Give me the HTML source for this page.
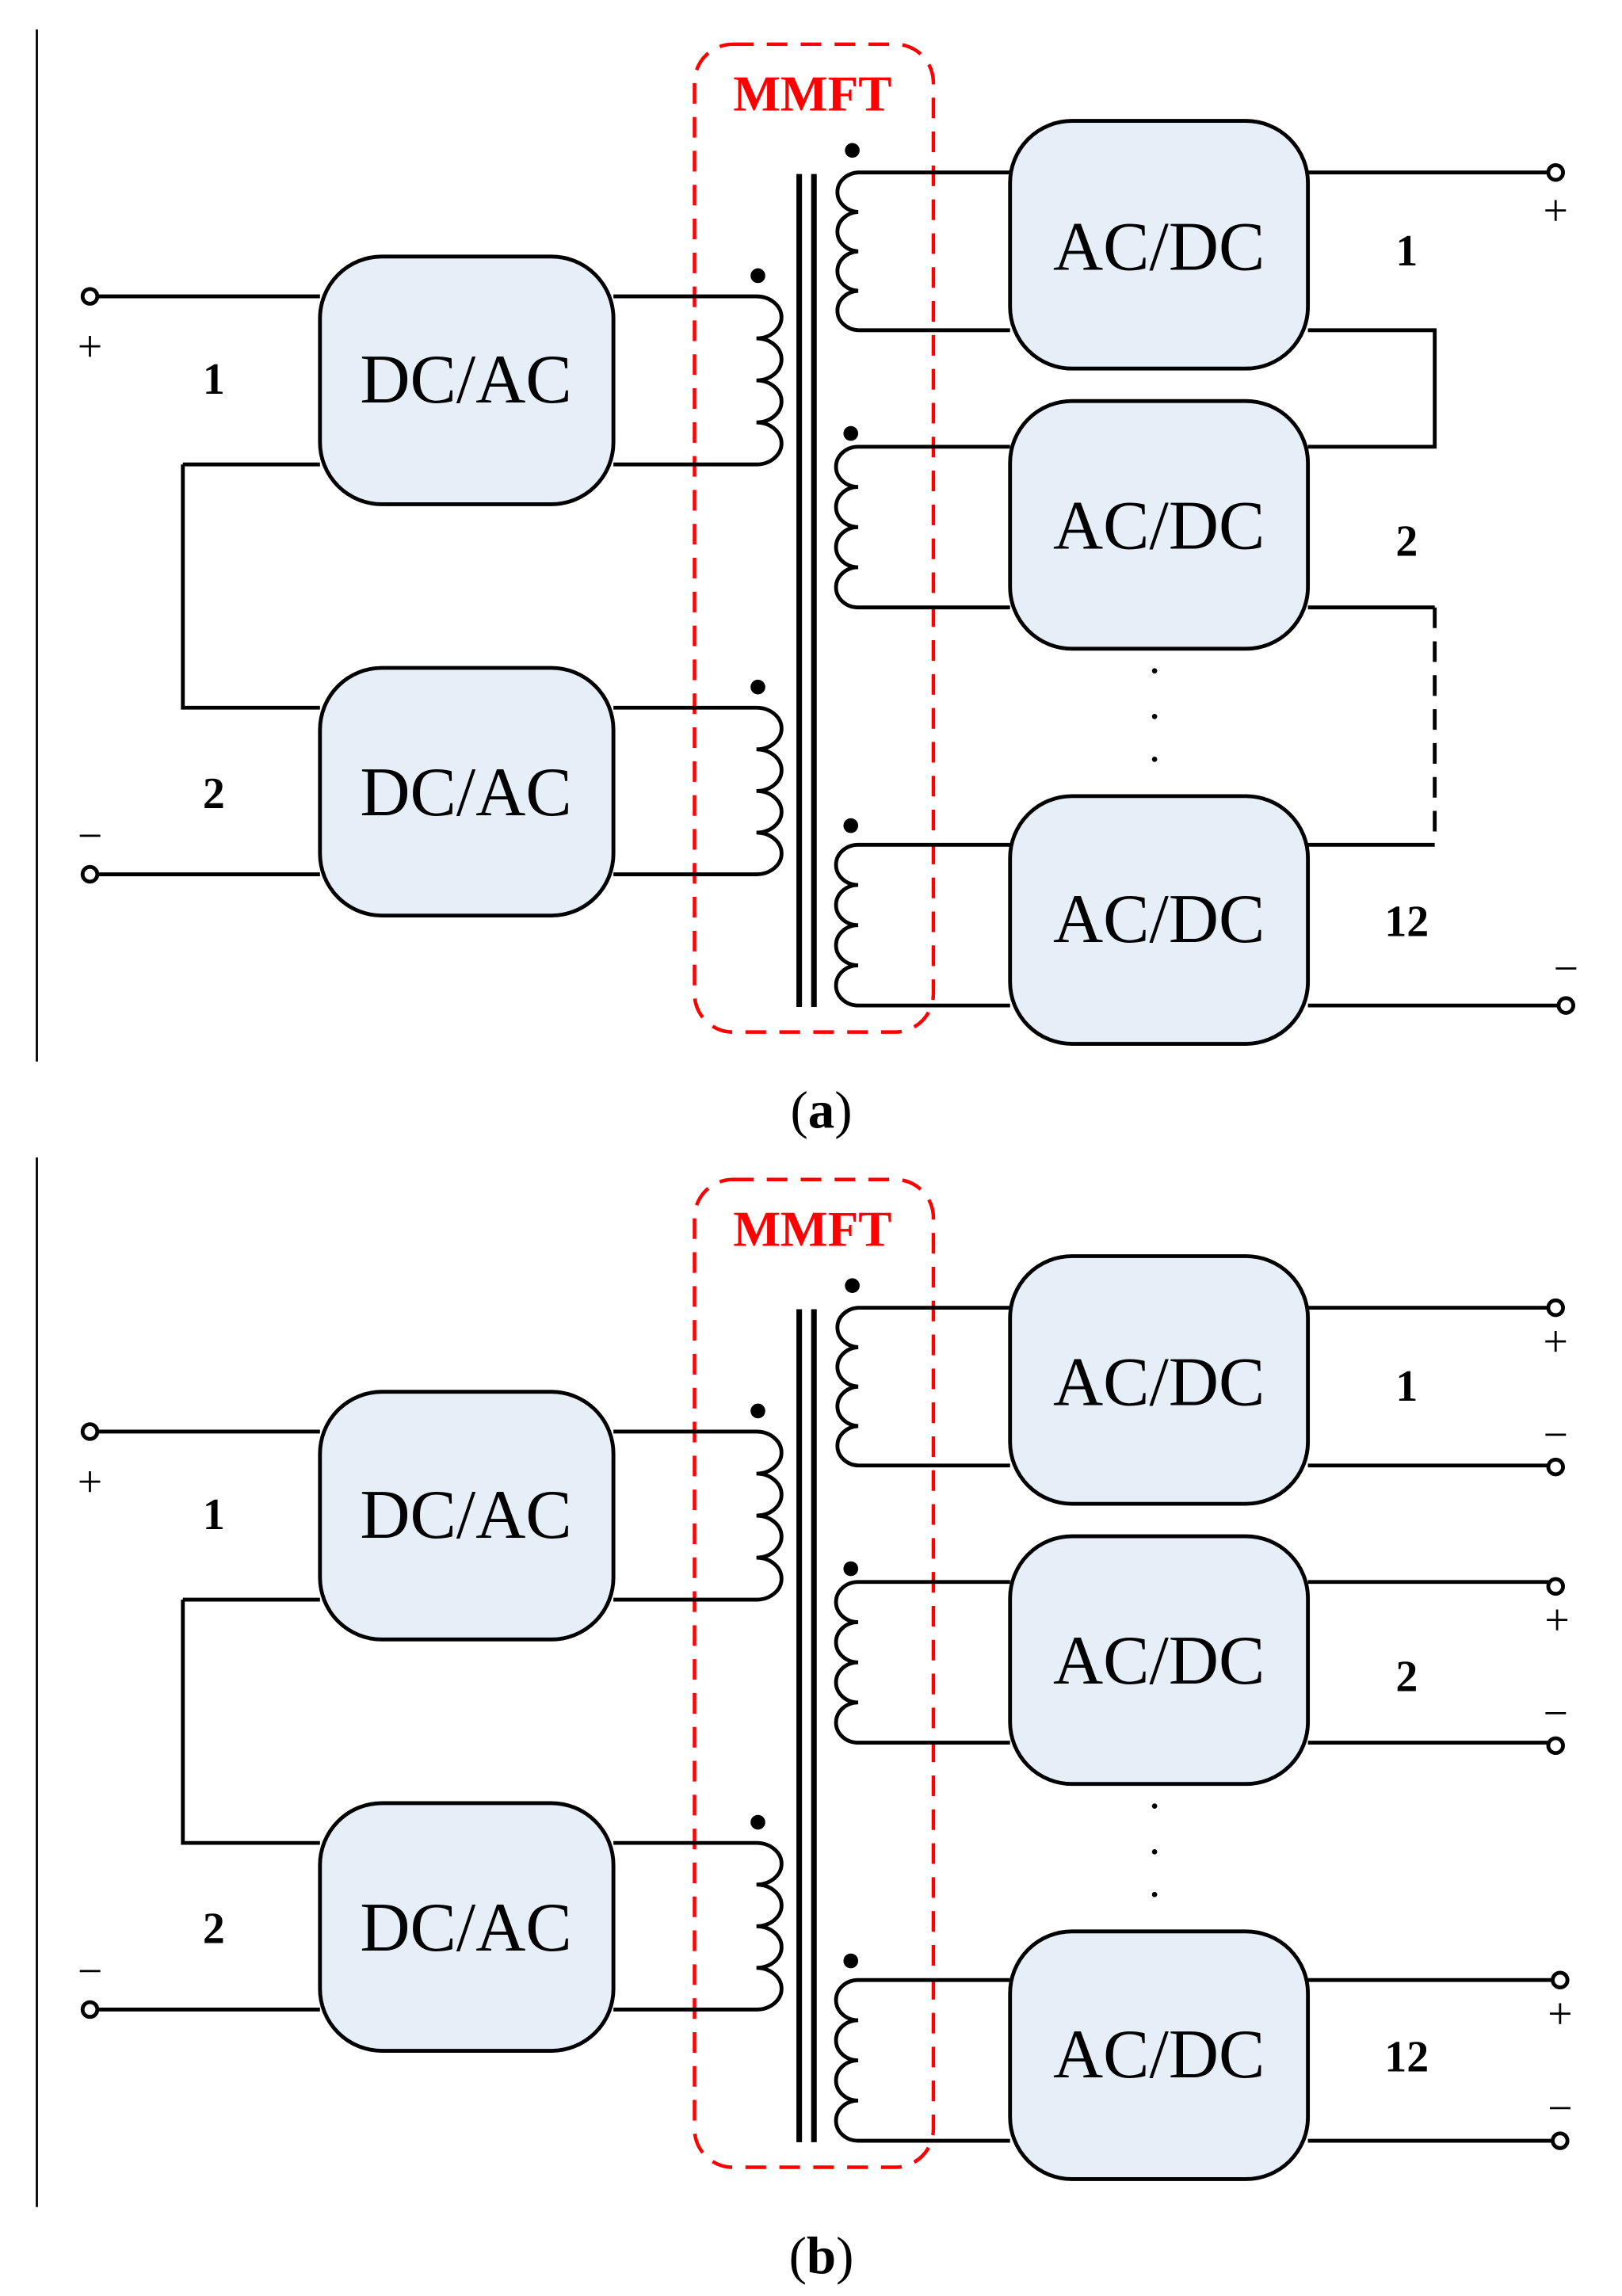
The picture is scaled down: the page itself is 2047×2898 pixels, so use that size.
<!DOCTYPE html>
<html><head><meta charset="utf-8"><style>html,body{margin:0;padding:0;background:#fff}svg{display:block}</style></head>
<body>
<svg width="2047" height="2898" viewBox="0 0 1100 1557.3" preserveAspectRatio="none" xmlns="http://www.w3.org/2000/svg">
<defs>
<g id="common" fill="none" stroke="#000" stroke-width="2.6">
  <rect x="471" y="30" width="162" height="670" rx="26" stroke="#f00" stroke-width="2.4" stroke-dasharray="14,9"/>
  <text x="551" y="75" fill="#f00" stroke="none" font-family="Liberation Serif, serif" font-weight="bold" font-size="34" text-anchor="middle">MMFT</text>
  <circle cx="61" cy="201" r="5" fill="#fff"/>
  <circle cx="61" cy="593" r="5" fill="#fff"/>
  <path d="M66,201 H217 M66,593 H217 M124,315 H217 M124,315 V480 H217"/>
  <rect x="217" y="174" width="199" height="168" rx="42" fill="#e6eef8"/>
  <rect x="217" y="453" width="199" height="168" rx="42" fill="#e6eef8"/>
  <path d="M416,201 H513 a17 14.25 0 0 1 0 28.5 a17 14.25 0 0 1 0 28.5 a17 14.25 0 0 1 0 28.5 a17 14.25 0 0 1 0 28.5 H416"/>
  <path d="M416,480 H513 a17 14.1 0 0 1 0 28.25 a17 14.1 0 0 1 0 28.25 a17 14.1 0 0 1 0 28.25 a17 14.1 0 0 1 0 28.25 H416"/>
  <path d="M542,118 V683 M552,118 V683" stroke-width="3.8"/>
  <path d="M685,117 H582 a15 13.4 0 0 0 0 26.75 a15 13.4 0 0 0 0 26.75 a15 13.4 0 0 0 0 26.75 a15 13.4 0 0 0 0 26.75 H685"/>
  <path d="M685,303 H582 a15 13.6 0 0 0 0 27.25 a15 13.6 0 0 0 0 27.25 a15 13.6 0 0 0 0 27.25 a15 13.6 0 0 0 0 27.25 H685"/>
  <path d="M685,573 H582 a15 13.6 0 0 0 0 27.25 a15 13.6 0 0 0 0 27.25 a15 13.6 0 0 0 0 27.25 a15 13.6 0 0 0 0 27.25 H685"/>
  <rect x="685" y="82" width="202" height="168" rx="42" fill="#e6eef8"/>
  <rect x="685" y="272" width="202" height="168" rx="42" fill="#e6eef8"/>
  <rect x="685" y="540" width="202" height="168" rx="42" fill="#e6eef8"/>
  <g fill="#000" stroke="none">
    <circle cx="514" cy="187" r="5"/><circle cx="514" cy="466" r="5"/>
    <circle cx="578" cy="102" r="5"/><circle cx="577" cy="294" r="5"/><circle cx="577" cy="560" r="5"/>
    <circle cx="783" cy="455" r="1.8"/><circle cx="783" cy="486" r="1.8"/><circle cx="783" cy="515" r="1.8"/>
  </g>
  <g fill="#000" stroke="none" font-family="Liberation Serif, serif">
    <text x="316" y="273" font-size="47" text-anchor="middle">DC/AC</text>
    <text x="316" y="553" font-size="47" text-anchor="middle">DC/AC</text>
    <text x="786" y="183" font-size="47" text-anchor="middle">AC/DC</text>
    <text x="786" y="372" font-size="47" text-anchor="middle">AC/DC</text>
    <text x="786" y="639" font-size="47" text-anchor="middle">AC/DC</text>
    <text x="145" y="267" font-size="30" font-weight="bold" text-anchor="middle">1</text>
    <text x="145" y="548" font-size="30" font-weight="bold" text-anchor="middle">2</text>
    <text x="61" y="245" font-size="30" text-anchor="middle">+</text>
    <text x="61" y="577" font-size="30" text-anchor="middle">−</text>
  </g>
</g>
</defs>

<use href="#common"/>
<g fill="none" stroke="#000" stroke-width="2.6">
  <path d="M25,20 V720" stroke-width="1.5"/>
  <path d="M887,117 H1050 M887,224 H973 V303 H887 M887,412 H973 M887,573 H973 M887,682 H1057"/>
  <path d="M973,412 V573" stroke-dasharray="14,9"/>
  <circle cx="1055" cy="117" r="5" fill="#fff"/>
  <circle cx="1062" cy="682" r="5" fill="#fff"/>
</g>
<g fill="#000" font-family="Liberation Serif, serif">
  <text x="954" y="180" font-size="30" font-weight="bold" text-anchor="middle">1</text>
  <text x="954" y="377" font-size="30" font-weight="bold" text-anchor="middle">2</text>
  <text x="954" y="635" font-size="30" font-weight="bold" text-anchor="middle">12</text>
  <text x="1055" y="153" font-size="30" text-anchor="middle">+</text>
  <text x="1062" y="667" font-size="30" text-anchor="middle">−</text>
  <text x="557" y="765" font-size="36" text-anchor="middle">(<tspan font-weight="bold">a</tspan>)</text>
</g>

<g transform="translate(0,770)">
<use href="#common"/>
<g fill="none" stroke="#000" stroke-width="2.6">
  <path d="M25,15 V727" stroke-width="1.5"/>
  <path d="M887,117 H1050 M887,224 H1050 M887,303 H1050 M887,412 H1050 M887,573 H1052 M887,682 H1052"/>
  <circle cx="1055" cy="117" r="5" fill="#fff"/>
  <circle cx="1055" cy="225" r="5" fill="#fff"/>
  <circle cx="1055" cy="306" r="5" fill="#fff"/>
  <circle cx="1055" cy="414" r="5" fill="#fff"/>
  <circle cx="1058" cy="573" r="5" fill="#fff"/>
  <circle cx="1058" cy="682" r="5" fill="#fff"/>
</g>
<g fill="#000" font-family="Liberation Serif, serif">
  <text x="954" y="180" font-size="30" font-weight="bold" text-anchor="middle">1</text>
  <text x="954" y="377" font-size="30" font-weight="bold" text-anchor="middle">2</text>
  <text x="954" y="635" font-size="30" font-weight="bold" text-anchor="middle">12</text>
  <text x="1055" y="150" font-size="30" text-anchor="middle">+</text>
  <text x="1055" y="213" font-size="30" text-anchor="middle">−</text>
  <text x="1056" y="339" font-size="30" text-anchor="middle">+</text>
  <text x="1055" y="402" font-size="30" text-anchor="middle">−</text>
  <text x="1058" y="606" font-size="30" text-anchor="middle">+</text>
  <text x="1058" y="670" font-size="30" text-anchor="middle">−</text>
  <text x="557" y="772" font-size="36" text-anchor="middle">(<tspan font-weight="bold">b</tspan>)</text>
</g>
</g>
</svg>
</body></html>
